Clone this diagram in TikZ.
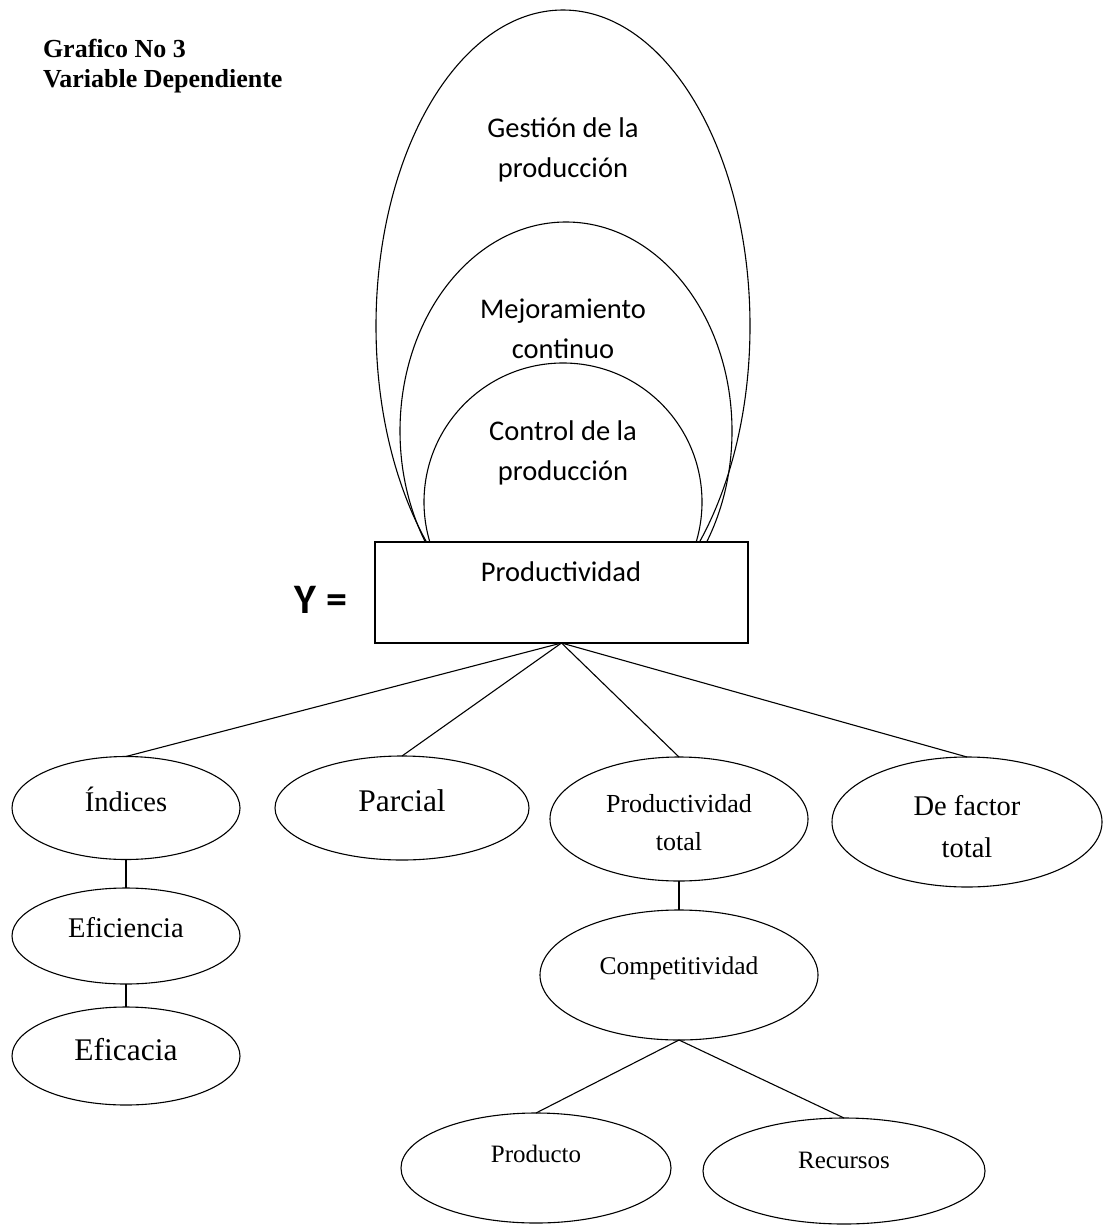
\documentclass[tikz,border=0pt]{standalone}
\usepackage{fontspec}
\setmainfont{Liberation Serif}
\newfontfamily\calibri{Carlito}
\usetikzlibrary{shapes.geometric}
\begin{document}
\begin{tikzpicture}[x=1pt,y=-1pt,
  every node/.style={inner sep=0pt, outer sep=0pt},
  oval/.style={draw, ellipse, line width=1.1pt},
  box/.style={draw, rectangle, fill=white, line width=1.3pt},
  link/.style={line width=1.1pt},
  cal/.style={anchor=base, font=\calibri\fontsize{28.5}{34}\selectfont},
  serif/.style={anchor=base, font=\fontsize{#1}{#1}\selectfont}]
\useasboundingbox (0,0) rectangle (1106,1225);

% heading
\node[anchor=base west, font=\bfseries\fontsize{26}{30}\selectfont] (title1) at (43,58) {Grafico No 3};
\node[anchor=base west, font=\bfseries\fontsize{26}{30}\selectfont] (title2) at (43,88) {Variable Dependiente};

% nested ovals resting on the box
\node[oval, minimum width=374pt, minimum height=632pt] (gestion) at (563,326) {};
\node[oval, minimum width=332pt, minimum height=418pt] (mejora) at (566,431) {};
\node[oval, minimum width=278pt, minimum height=278pt] (control) at (563,502) {};

\node[cal] (gestionA) at (563,138) {Gestión de la};
\node[cal] (gestionB) at (563,178) {producción};
\node[cal] (mejoraA) at (563,318) {Mejoramiento};
\node[cal] (mejoraB) at (563,358) {continuo};
\node[cal] (controlA) at (563,440) {Control de la};
\node[cal] (controlB) at (563,480) {producción};

% central box
\node[box, minimum width=373pt, minimum height=101pt] (prod) at (561.5,592.5) {};
\node[cal] (prodT) at (561,581) {Productividad};
\node[anchor=base, font=\calibri\bfseries\fontsize{42}{42}\selectfont] (yeq) at (321,613) {Y =};

% first level
\node[oval, minimum width=228pt, minimum height=103pt] (indices) at (126,808) {};
\node[oval, minimum width=254pt, minimum height=104pt] (parcial) at (402,808) {};
\node[oval, minimum width=258pt, minimum height=124pt] (ptotal) at (679,819) {};
\node[oval, minimum width=270pt, minimum height=130pt] (factor) at (967,822) {};

\node[serif=28.5] (indicesT) at (126,811) {Índices};
\node[serif=31.5] (parcialT) at (402,811) {Parcial};
\node[serif=26] (ptotalA) at (679,812) {Productividad};
\node[serif=26] (ptotalB) at (679,850) {total};
\node[serif=28.5] (factorA) at (967,815) {De factor};
\node[serif=28.5] (factorB) at (967,857) {total};

% second level
\node[oval, minimum width=228pt, minimum height=96pt] (eficiencia) at (126,936) {};
\node[oval, minimum width=228pt, minimum height=98pt] (eficacia) at (126,1056) {};
\node[oval, minimum width=278pt, minimum height=130pt] (compet) at (679,975) {};
\node[serif=28.5] (eficienciaT) at (126,937) {Eficiencia};
\node[serif=31.5] (eficaciaT) at (126,1060) {Eficacia};
\node[serif=25.5] (competT) at (679,974) {Competitividad};

% third level
\node[oval, minimum width=270pt, minimum height=110pt] (producto) at (536,1168) {};
\node[oval, minimum width=282pt, minimum height=106pt] (recursos) at (844,1171) {};
\node[serif=25] (productoT) at (536,1162) {Producto};
\node[serif=25] (recursosT) at (844,1168) {Recursos};

% connectors
\draw[link] (prod.south) -- (indices.north);
\draw[link] (prod.south) -- (parcial.north);
\draw[link] (prod.south) -- (ptotal.north);
\draw[link] (prod.south) -- (factor.north);
\draw[link] (indices.south) -- (eficiencia.north);
\draw[link] (eficiencia.south) -- (eficacia.north);
\draw[link] (ptotal.south) -- (compet.north);
\draw[link] (compet.south) -- (producto.north);
\draw[link] (compet.south) -- (recursos.north);
\end{tikzpicture}
\end{document}
